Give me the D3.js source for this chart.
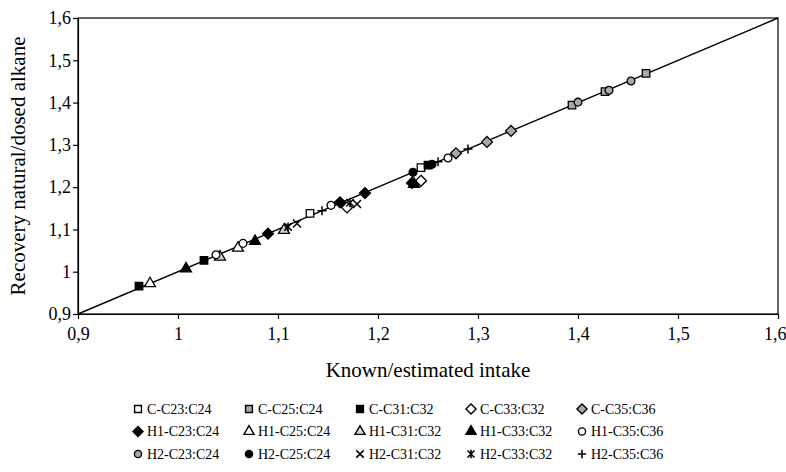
<!DOCTYPE html>
<html>
<head>
<meta charset="utf-8">
<script src="https://cdn.jsdelivr.net/npm/d3@7"></script>
<style>
  body { margin: 0; background: #fff; }
  svg { display: block; }
  text { font-family: "Liberation Serif", "Times New Roman", serif; fill: #000; }
</style>
</head>
<body>
<script>
// axis ticks and labels
var tickValues = [0.9, 1.0, 1.1, 1.2, 1.3, 1.4, 1.5, 1.6];
var tickLabels = ["0,9", "1", "1,1", "1,2", "1,3", "1,4", "1,5", "1,6"];

// series (C = row 1, H1 = row 2, H2 = row 3 of the legend)
var seriesNames = [
  "C-C23:C24", "C-C25:C24", "C-C31:C32", "C-C33:C32", "C-C35:C36",
  "H1-C23:C24", "H1-C25:C24", "H1-C31:C32", "H1-C33:C32", "H1-C35:C36",
  "H2-C23:C24", "H2-C25:C24", "H2-C31:C32", "H2-C33:C32", "H2-C35:C36"
];
var seriesX = [
  [1.132, 1.243],
  [1.394, 1.427, 1.468],
  [0.961, 1.026, 1.250],
  [1.169, 1.243],
  [1.278, 1.309, 1.333],
  [1.090, 1.162, 1.187, 1.234],
  [0.972, 1.060],
  [1.042, 1.106],
  [1.008, 1.077, 1.236],
  [1.038, 1.065, 1.153, 1.270],
  [1.400, 1.431, 1.453],
  [1.235, 1.254],
  [1.119, 1.179],
  [1.110, 1.172],
  [1.144, 1.260, 1.290]
];
var seriesY = [
  [1.138, 1.246],
  [1.394, 1.426, 1.469],
  [0.966, 1.027, 1.252],
  [1.152, 1.215],
  [1.280, 1.307, 1.333],
  [1.090, 1.164, 1.186, 1.210],
  [0.972, 1.056],
  [1.035, 1.098],
  [1.007, 1.072, 1.207],
  [1.040, 1.067, 1.157, 1.269],
  [1.401, 1.429, 1.451],
  [1.235, 1.254],
  [1.114, 1.160],
  [1.106, 1.163],
  [1.144, 1.260, 1.290]
];

// custom symbols
var symPlus = { draw: function (c, s) { var r = Math.sqrt(s) / 2;
  c.moveTo(-r, 0); c.lineTo(r, 0); c.moveTo(0, -r); c.lineTo(0, r); } };
var symX = { draw: function (c, s) { var r = Math.sqrt(s) / 2;
  c.moveTo(-r, -r); c.lineTo(r, r); c.moveTo(-r, r); c.lineTo(r, -r); } };
var symStar = { draw: function (c, s) { var r = Math.sqrt(s) / 2;
  c.moveTo(-r, -r); c.lineTo(r, r); c.moveTo(-r, r); c.lineTo(r, -r);
  c.moveTo(0, -r * 1.2); c.lineTo(0, r * 1.2); } };
var symRhomb = { draw: function (c, s) { var r = Math.sqrt(s / 2);
  c.moveTo(0, -r); c.lineTo(r, 0); c.lineTo(0, r); c.lineTo(-r, 0); c.closePath(); } };

var grey = "#a8a8a8", light = "#d4d4d4";
var markerStyle = [
  { type: d3.symbolSquare, size: 56, fill: "#fff" },
  { type: d3.symbolSquare, size: 56, fill: grey },
  { type: d3.symbolSquare, size: 56, fill: "#000" },
  { type: symRhomb, size: 60, fill: "#fff" },
  { type: symRhomb, size: 60, fill: grey },
  { type: symRhomb, size: 60, fill: "#000" },
  { type: d3.symbolTriangle, size: 52, fill: "#fff" },
  { type: d3.symbolTriangle, size: 52, fill: light },
  { type: d3.symbolTriangle, size: 52, fill: "#000" },
  { type: d3.symbolCircle, size: 48, fill: "#fff" },
  { type: d3.symbolCircle, size: 48, fill: grey },
  { type: d3.symbolCircle, size: 48, fill: "#000" },
  { type: symX, size: 64, fill: "none" },
  { type: symStar, size: 56, fill: "none" },
  { type: symPlus, size: 81, fill: "none" }
];

var W = 786, H = 472;
var pLeft = 78, pRight = 778, pTop = 18, pBottom = 314;

var svg = d3.select("body").append("svg").attr("width", W).attr("height", H);

var x = d3.scaleLinear().domain([0.9, 1.6]).range([pLeft, pRight]);
var y = d3.scaleLinear().domain([0.9, 1.6]).range([pBottom, pTop]);

// frame
svg.append("rect")
  .attr("x", pLeft).attr("y", pTop)
  .attr("width", pRight - pLeft).attr("height", pBottom - pTop)
  .attr("fill", "none").attr("stroke", "#000").attr("stroke-width", 1.2);

var fmt = function (d) { return tickLabels[tickValues.indexOf(d)]; };

var xAxis = svg.append("g").attr("transform", "translate(0," + pBottom + ")")
  .call(d3.axisBottom(x).tickValues(tickValues).tickFormat(fmt).tickSize(5).tickSizeOuter(0));
var yAxis = svg.append("g").attr("transform", "translate(" + pLeft + ",0)")
  .call(d3.axisLeft(y).tickValues(tickValues).tickFormat(fmt).tickSize(5).tickSizeOuter(0));

[xAxis, yAxis].forEach(function (g) {
  g.select(".domain").attr("stroke", "#000").attr("stroke-width", 1.2);
  g.selectAll(".tick line").attr("stroke", "#000").attr("stroke-width", 1.2);
  g.selectAll("text").attr("font-family", "Liberation Serif, Times New Roman, serif")
    .attr("font-size", 18).attr("fill", "#000");
});
xAxis.selectAll("text").attr("dy", "1.0em");
xAxis.selectAll(".tick:last-of-type text").attr("text-anchor", "end").attr("x", 8);
yAxis.selectAll("text").attr("x", -7);

// 1:1 line
svg.append("line")
  .attr("x1", x(0.9)).attr("y1", y(0.9))
  .attr("x2", x(1.6)).attr("y2", y(1.6))
  .attr("stroke", "#000").attr("stroke-width", 1.4);

// points
seriesNames.forEach(function (name, i) {
  var st = markerStyle[i];
  var pts = seriesX[i].map(function (v, j) { return [v, seriesY[i][j]]; });
  svg.append("g").selectAll("path").data(pts).enter().append("path")
    .attr("transform", function (d) { return "translate(" + x(d[0]) + "," + y(d[1]) + ")"; })
    .attr("d", d3.symbol().type(st.type).size(st.size))
    .attr("fill", st.fill)
    .attr("stroke", "#000")
    .attr("stroke-width", st.fill === "none" ? 1.5 : 1.3);
});

// axis titles
svg.append("text")
  .attr("x", (pLeft + pRight) / 2).attr("y", 377)
  .attr("text-anchor", "middle").attr("font-size", 21)
  .text("Known/estimated intake");
svg.append("text")
  .attr("transform", "translate(25," + ((pTop + pBottom) / 2) + ") rotate(-90)")
  .attr("text-anchor", "middle").attr("font-size", 21)
  .text("Recovery natural/dosed alkane");

// legend
var legend = svg.append("g");
seriesNames.forEach(function (name, i) {
  var st = markerStyle[i];
  var col = i % 5, row = Math.floor(i / 5);
  var lx = 138 + col * 111, ly = 409 + row * 22.5;
  legend.append("path")
    .attr("transform", "translate(" + lx + "," + ly + ")")
    .attr("d", d3.symbol().type(st.type).size(st.size * 0.85))
    .attr("fill", st.fill)
    .attr("stroke", "#000")
    .attr("stroke-width", st.fill === "none" ? 1.6 : 1.4);
  legend.append("text")
    .attr("x", lx + 9).attr("y", ly)
    .attr("dy", "0.35em").attr("font-size", 14)
    .text(name);
});
</script>
</body>
</html>
